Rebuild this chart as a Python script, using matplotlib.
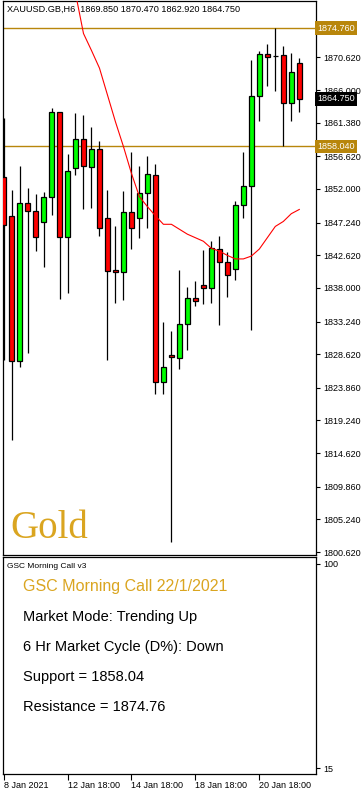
#import packages
import matplotlib
matplotlib.use("Agg")
import matplotlib.pyplot as plt

#6 hour candles, XAUUSD
opens = [1853.72, 1848.20, 1827.66, 1850.04, 1848.90, 1847.35, 1850.89, 1862.92, 1845.22, 1854.99,
         1859.10, 1855.13, 1857.68, 1847.91, 1840.55, 1840.21, 1848.76, 1847.91, 1851.45, 1854.00,
         1824.69, 1828.51, 1828.09, 1832.90, 1836.58, 1838.43, 1838.00, 1843.52, 1841.68, 1840.69,
         1849.75, 1852.39, 1865.19, 1871.14, 1870.80, 1870.89, 1864.20, 1869.85]
highs = [1862.07, 1851.92, 1855.18, 1852.20, 1851.35, 1851.64, 1863.49, 1862.92, 1856.97, 1862.78,
         1862.50, 1860.80, 1858.82, 1851.92, 1846.72, 1851.78, 1857.30, 1855.32, 1856.73, 1855.60,
         1833.23, 1831.95, 1840.59, 1838.18, 1839.03, 1843.42, 1844.70, 1845.31, 1843.10, 1850.26,
         1857.20, 1870.19, 1871.46, 1872.45, 1874.76, 1872.17, 1871.18, 1870.47]
lows = [1827.85, 1816.52, 1826.76, 1828.74, 1843.18, 1840.92, 1848.28, 1836.44, 1837.29, 1853.94,
        1849.13, 1849.27, 1845.36, 1827.75, 1835.82, 1836.24, 1843.52, 1845.02, 1846.50, 1822.93,
        1822.93, 1801.98, 1826.53, 1829.16, 1835.40, 1835.74, 1835.88, 1832.70, 1836.67, 1839.08,
        1847.91, 1832.10, 1861.59, 1866.55, 1865.84, 1858.04, 1861.59, 1862.92]
closes = [1846.86, 1827.66, 1850.04, 1848.90, 1845.22, 1850.89, 1862.92, 1845.22, 1854.57, 1859.10,
          1855.28, 1857.68, 1846.50, 1840.35, 1840.21, 1848.76, 1846.50, 1851.45, 1854.14, 1824.69,
          1826.81, 1828.23, 1832.90, 1836.58, 1836.16, 1838.00, 1843.66, 1841.68, 1839.84, 1849.80,
          1852.49, 1865.19, 1871.04, 1870.71, 1870.80, 1864.20, 1868.59, 1864.75]

#moving average (red line)
ma_idx = list(range(8, 38))
ma_vals = [1884.9, 1879.7, 1874.0, 1871.6, 1869.1, 1865.3, 1861.5, 1858.0, 1854.2, 1850.9,
           1849.5, 1848.2, 1847.0, 1847.0, 1846.3, 1845.6, 1845.1, 1844.6, 1843.6, 1843.2,
           1842.6, 1842.1, 1842.1, 1842.5, 1843.5, 1845.1, 1846.7, 1847.4, 1848.5, 1849.1]

price_ticks = [1800.62, 1805.24, 1809.86, 1814.62, 1819.24, 1823.86, 1828.62, 1833.24, 1838.00,
               1842.62, 1847.24, 1852.00, 1856.62, 1861.38, 1866.00, 1870.62, 1875.24]
date_pos = [0, 8, 16, 24, 32]
date_labels = ["8 Jan 2021", "12 Jan 18:00", "14 Jan 18:00", "18 Jan 18:00", "20 Jan 18:00"]
support = 1858.04
resistance = 1874.76
last_price = 1864.75

info_lines = ["Market Mode: Trending Up", "6 Hr Market Cycle (D%): Down",
              "Support = 1858.04", "Resistance = 1874.76"]

gold = "#B8860B"
W = 363
H = 792
plt.rcParams['font.family'] = ['Liberation Sans', 'DejaVu Sans']

fig = plt.figure(figsize=(W / 100, H / 100), dpi=100)

#main price panel
ax = fig.add_axes([3 / W, 1 - 555 / H, 313 / W, 554 / H])
for i in range(len(opens)):
    o, h, l, c = opens[i], highs[i], lows[i], closes[i]
    col = "#00FF00" if c > o else "#FF0000"
    ax.vlines(i, l, h, color="black", lw=0.9, zorder=2)
    ax.bar(i, abs(c - o), bottom=min(o, c), width=0.58, color=col,
           edgecolor="black", linewidth=0.9, zorder=3)
ax.plot(ma_idx, ma_vals, color="red", lw=0.8, zorder=4)
ax.axhline(support, color=gold, lw=1, zorder=1)
ax.axhline(resistance, color=gold, lw=1, zorder=1)

ax.set_xlim(-0.07, 39.09)
ax.set_ylim(1800.2, 1878.6)
ax.set_xticks([])
ax.yaxis.tick_right()
ax.set_yticks(price_ticks)
#top tick label is hidden behind the resistance box
ax.set_yticklabels(["%.3f" % p for p in price_ticks[:-1]] + [""])
ax.tick_params(axis="y", labelsize=6.5, length=3, width=0.8, pad=2)
for s in ax.spines.values():
    s.set_linewidth(0.9)

#price label boxes
for val, bg in [(resistance, gold), (support, gold), (last_price, "black")]:
    ax.text(1.004, val, "%.3f" % val, transform=ax.get_yaxis_transform(), ha="left",
            va="center", color="white", fontsize=6.5, zorder=10, clip_on=False,
            bbox=dict(boxstyle="square,pad=0.25", fc=bg, ec="none"))

fig.text(7 / W, 1 - 9 / H, "XAUUSD.GB,H6  1869.850 1870.470 1862.920 1864.750",
         fontsize=6.6, va="center", ha="left")
fig.text(10 / W, 1 - 538 / H, "Gold", family="Liberation Serif", fontsize=28,
         color="#DAA520", va="baseline", ha="left")

#indicator panel
ax2 = fig.add_axes([3 / W, 1 - 774 / H, 313 / W, 217 / H])
ax2.set_xlim(-0.07, 39.09)
ax2.set_ylim(12.6, 102.9)
ax2.yaxis.tick_right()
ax2.set_yticks([100, 15])
ax2.set_yticklabels(["100", "15"])
ax2.tick_params(axis="y", labelsize=6.5, length=3, width=0.8, pad=2)
ax2.set_xticks(date_pos)
ax2.set_xticklabels(date_labels, ha="left")
ax2.tick_params(axis="x", labelsize=6.5, length=4, width=0.8, pad=1)
for s in ax2.spines.values():
    s.set_linewidth(0.9)

fig.text(7 / W, 1 - 566 / H, "GSC Morning Call v3", fontsize=6, va="center")
fig.text(23 / W, 1 - 587 / H, "GSC Morning Call 22/1/2021", fontsize=11.5,
         color="#DAA520", va="center")
for k, line in enumerate(info_lines):
    fig.text(23 / W, 1 - (617 + 30 * k) / H, line, fontsize=10.5, color="black", va="center")

fig.savefig("out.png", dpi=100)
